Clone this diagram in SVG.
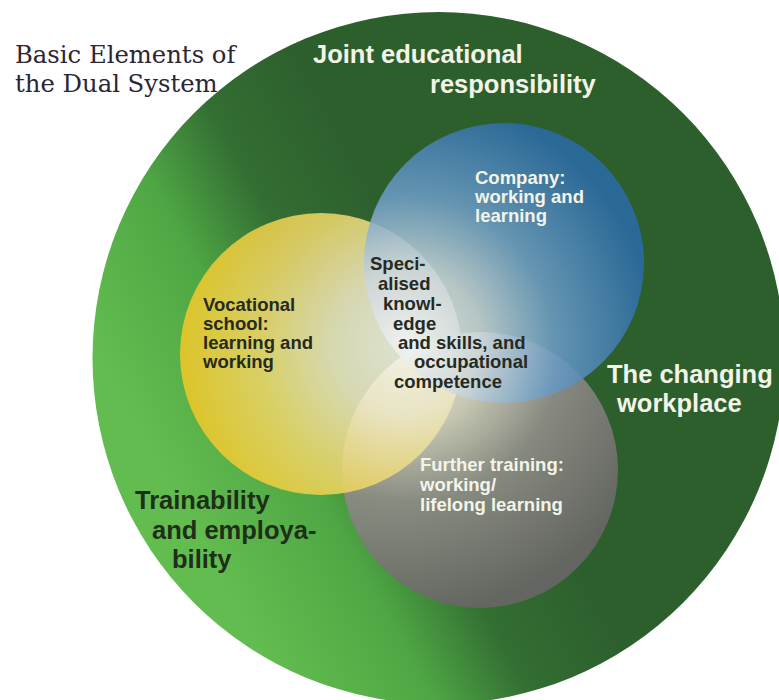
<svg xmlns="http://www.w3.org/2000/svg" width="779" height="700" viewBox="0 0 779 700">
  <defs>
    <!-- outer ring: bright green lower-left to deep green upper-right -->
    <linearGradient id="outerFill" gradientUnits="userSpaceOnUse" x1="150" y1="450" x2="431" y2="297">
      <stop offset="0" stop-color="#63bc4f"/>
      <stop offset="0.4" stop-color="#4fa744"/>
      <stop offset="0.68" stop-color="#336e33"/>
      <stop offset="1" stop-color="#2d5f2d"/>
    </linearGradient>
    <!-- the three learning places fade to white toward their common core -->
    <radialGradient id="grayFill" gradientUnits="userSpaceOnUse" cx="405" cy="345" r="270">
      <stop offset="0" stop-color="#f2f2ea"/>
      <stop offset="0.3" stop-color="#d0cfbc"/>
      <stop offset="0.58" stop-color="#8c8c84"/>
      <stop offset="1" stop-color="#666663"/>
    </radialGradient>
    <radialGradient id="yellowFill" gradientUnits="userSpaceOnUse" cx="405" cy="345" r="240">
      <stop offset="0" stop-color="#f4f3e8"/>
      <stop offset="0.3" stop-color="#ece6c2"/>
      <stop offset="0.6" stop-color="#ebd66c"/>
      <stop offset="1" stop-color="#efc417"/>
    </radialGradient>
    <radialGradient id="blueFill" gradientUnits="userSpaceOnUse" cx="405" cy="345" r="250">
      <stop offset="0" stop-color="#f2f4f2"/>
      <stop offset="0.3" stop-color="#cad5da"/>
      <stop offset="0.6" stop-color="#6b9bc3"/>
      <stop offset="1" stop-color="#2a6aa5"/>
    </radialGradient>
  </defs>
  <style>
    .big{font-family:"Liberation Sans",Arial,sans-serif;font-weight:bold;font-size:25.5px}
    .small{font-family:"Liberation Sans",Arial,sans-serif;font-weight:bold;font-size:18.5px}
    .light{fill:#f3f4e8}
    .dark{fill:#1e2f19}
    .ink{fill:#262a22}
    .title{font-family:"DejaVu Serif","Liberation Serif",serif;font-size:24.3px;fill:#2b2633}
  </style>

  <g id="title">
    <text class="title" x="15" y="63">Basic Elements of</text>
    <text class="title" x="15" y="92">the Dual System</text>
  </g>

  <g id="dual-system">
    <circle cx="438.5" cy="358" r="346" fill="url(#outerFill)"/>
  </g>

  <g id="further-training">
    <circle cx="480" cy="470" r="138" fill="url(#grayFill)" opacity="0.95"/>
  </g>
  <g id="vocational-school">
    <circle cx="321" cy="354" r="141" fill="url(#yellowFill)" opacity="0.88"/>
  </g>
  <g id="company">
    <circle cx="504" cy="263" r="140" fill="url(#blueFill)" opacity="0.88"/>
  </g>

  <g id="connectors"/>

  <g id="labels-outer">
    <text class="big light" x="313" y="63">Joint educational</text>
    <text class="big light" x="430" y="93">responsibility</text>
    <text class="big light" x="607" y="383">The changing</text>
    <text class="big light" x="617" y="412">workplace</text>
    <text class="big dark" x="135" y="509">Trainability</text>
    <text class="big dark" x="152" y="539">and employa-</text>
    <text class="big dark" x="172" y="568">bility</text>
  </g>

  <g id="company-label">
    <text class="small light" x="475" y="184">Company:</text>
    <text class="small light" x="475" y="203">working and</text>
    <text class="small light" x="475" y="222">learning</text>
  </g>
  <g id="vocational-label">
    <text class="small ink" x="203" y="311">Vocational</text>
    <text class="small ink" x="203" y="330">school:</text>
    <text class="small ink" x="203" y="349">learning and</text>
    <text class="small ink" x="203" y="368">working</text>
  </g>
  <g id="core-label">
    <text class="small ink" x="370" y="270">Speci-</text>
    <text class="small ink" x="378" y="290">alised</text>
    <text class="small ink" x="383" y="310">knowl-</text>
    <text class="small ink" x="393" y="330">edge</text>
    <text class="small ink" x="398" y="349">and skills, and</text>
    <text class="small ink" x="414" y="368">occupational</text>
    <text class="small ink" x="394" y="388">competence</text>
  </g>
  <g id="further-label">
    <text class="small light" x="420" y="471">Further training:</text>
    <text class="small light" x="420" y="491">working/</text>
    <text class="small light" x="420" y="511">lifelong learning</text>
  </g>
</svg>
